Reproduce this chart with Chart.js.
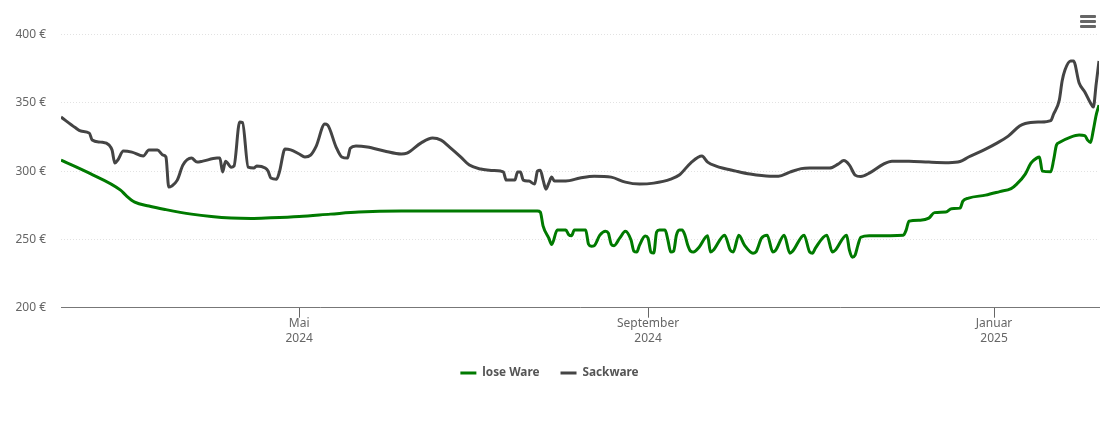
<!DOCTYPE html>
<html><head><meta charset="utf-8">
<style>html,body{margin:0;padding:0;background:#fff}#w{position:relative;width:1110px;height:422px}
#m{position:absolute;left:1080px;top:15px;width:16px}#m div{height:3px;background:#666;margin-bottom:2px;border-radius:1px}</style>
<script src="https://cdn.jsdelivr.net/npm/chart.js@4"></script></head>
<body><div id="w"><canvas id="c" width="1110" height="422"></canvas><div id="m"><div></div><div></div><div></div></div></div>
<script>
// x = days since 7 Feb 2024
const loseDays=[0,10,21,23,26,31,37,46,53,60,67,74,84,95,105,120,168,169,170,172,173,175,178,179,180,181,185,186,187,188,190,192,193,194,195,197,199,201,202,203,204,206,207,208,209,210,211,213,214,215,216,217,218,219,220,221,222,223,225,228,229,230,234,236,237,239,241,244,245,247,249,251,252,255,257,258,262,264,265,266,270,272,273,277,278,279,280,281,282,285,297,298,299,303,306,308,312,314,317,318,320,326,331,335,337,340,342,344,345,346,349,350,351,352,356,359,361,362,363,364,365,366];
const losePrices=[308.1,298.5,286.1,282,277.3,274.4,271.8,268.5,266.7,265.6,265.3,265.8,266.8,268.5,270,270.7,270.7,270,259.7,250.9,246.2,256.8,256.8,253.5,252.7,256.8,256.8,246.5,245,245.4,253.1,256,254.6,246.5,245.4,250.9,256,249.5,241.4,240.7,245.8,252.4,250.9,240.7,240,255.3,256.8,256.8,249.5,240.7,241.4,253.1,256.8,256.8,253.1,245.8,241.4,240.7,244.3,252.7,240.7,242.1,253.1,242,240.7,253.1,245.8,239.9,240.7,250.9,253.1,240.7,242.1,253.1,239.9,241.4,253.1,240.7,239.9,243.6,253.1,240.7,242.1,253.1,242.1,237,238.5,245.8,251.6,252.7,253.1,256.8,263.4,264.1,265.6,269.6,270,272.5,272.9,278,280.2,282.4,285,287.2,290.5,297.8,305.9,309.5,310.3,300,299.6,308.1,319,320.9,324.9,326.4,326,322.7,320.9,330,341,348.3];
const sackDays=[0,5,7,10,11,14,17,18,19,20,22,25,29,31,34,36,37,38,39,41,43,46,48,50,55,56,57,58,60,61,63,64,66,68,69,72,73,74,76,77,79,81,84,86,88,90,93,94,97,99,101,102,104,108,114,120,122,127,131,134,137,141,144,148,151,155,156,157,160,161,162,163,165,167,168,169,170,171,172,173,174,178,183,188,194,199,204,209,215,218,222,226,228,231,238,243,250,253,257,261,264,271,274,276,278,280,282,285,290,293,299,306,313,317,320,326,330,334,338,340,345,349,350,352,353,354,356,357,359,361,363,364,365,366];
const sackPrices=[339.6,331.9,329.3,327.8,322.7,321.2,319,315.4,305.9,308,314.7,313.9,311,315.4,315.4,311.7,310.3,288.3,289,293.4,304.4,309.5,306.6,307.3,309.5,309.5,299.3,307.3,302.9,303.7,335.9,335.5,302.9,302.2,303.7,302.2,300,294.9,294.1,299.3,316.1,315.5,312.5,310.3,311.7,318.3,334.4,333.7,317.6,310.3,309.5,316.8,318.3,317.6,314.7,312.5,313.2,320.7,324.2,322.7,317.6,310.3,304.4,301.5,300.7,300,299.3,293.4,293.4,299.3,299.3,293.4,292.7,290.5,300,300.7,293.4,286.8,291.2,295.6,292.7,292.7,294.9,296.3,295.6,291.9,290.5,291.2,294.1,297.1,305.9,311,306.6,303.7,300,297.8,296.3,296.3,299.3,301.8,302.2,302.2,305.1,307.7,304.4,297.1,296,298.5,305.1,307.3,307.3,306.6,306.2,307,310.3,316.1,320.5,325.6,333,334.8,335.9,337,341.8,352,365.9,374,380.6,380.6,364.5,357.9,349.8,346.9,363.7,380.6];
const tickDays=[84,207,329];
const tickLabels=[["Mai","2024"],["September","2024"],["Januar","2025"]];
const seriesNames=["lose Ware","Sackware"];
const seriesColors=["#007a00","#444444"];
const yTicks=[200,250,300,350,400];

const FONT='"Noto Sans"';
const pts=(d,p)=>d.map((x,i)=>({x,y:p[i]}));
const ds=(i,d,p)=>({label:seriesNames[i],data:pts(d,p),borderColor:seriesColors[i],backgroundColor:seriesColors[i],borderWidth:3,pointRadius:0,cubicInterpolationMode:'monotone',borderCapStyle:'butt',borderJoinStyle:'round'});
new Chart(document.getElementById('c'),{
 type:'line',
 data:{datasets:[ds(0,loseDays,losePrices),ds(1,sackDays,sackPrices)]},
 options:{
  responsive:false,animation:false,
  layout:{padding:{left:0,right:11,top:34.5,bottom:33}},
  plugins:{
   legend:{position:'bottom',labels:{boxWidth:16,boxHeight:3,padding:21,color:'#555',font:{family:FONT,size:11.8,weight:'bold'},
     generateLabels:c=>Chart.defaults.plugins.legend.labels.generateLabels(c).map(l=>({...l,lineWidth:0}))}},
   tooltip:{enabled:true}
  },
  scales:{
   x:{type:'linear',min:0,max:366,
     afterBuildTicks:a=>{a.ticks=tickDays.map(v=>({value:v}))},
     afterFit:a=>{a.height=38.5},
     border:{color:'#777',width:1},
     grid:{drawOnChartArea:false,drawTicks:true,tickLength:10,color:'#666'},
     ticks:{autoSkip:false,maxRotation:0,padding:-2,color:'#666',font:{family:FONT,size:12,lineHeight:1.25},
       callback:(v)=>{const i=tickDays.indexOf(v);return i<0?'':tickLabels[i]}}},
   y:{min:200,max:400,
     afterBuildTicks:a=>{a.ticks=yTicks.map(v=>({value:v}))},
     afterFit:a=>{a.width=61},
     border:{display:false,dash:[1,2]},
     grid:{drawTicks:false,color:'#e2e2e2',lineWidth:1},
     ticks:{padding:15,color:'#666',font:{family:FONT,size:12},callback:v=>v+' €'}}
  }
 }
});
</script></body></html>
